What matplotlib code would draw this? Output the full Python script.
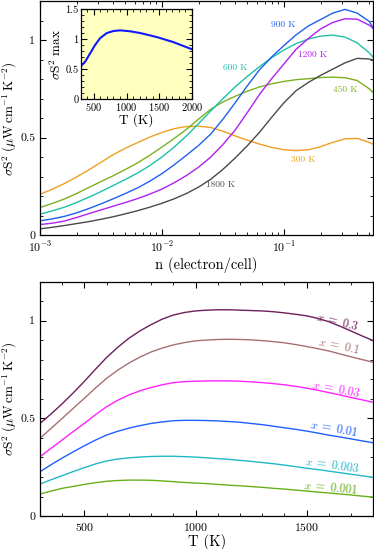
import numpy as np
import matplotlib
matplotlib.use('Agg')
import matplotlib.pyplot as plt
from matplotlib.ticker import MultipleLocator, FuncFormatter

plt.rcParams['font.family'] = 'serif'
plt.rcParams['font.serif'] = ['cmr10']
plt.rcParams['mathtext.fontset'] = 'cm'
plt.rcParams['axes.formatter.use_mathtext'] = True
plt.rcParams['axes.unicode_minus'] = False

# top panel: sigma S^2 vs carrier density (log10 n) at several temperatures
logn = [-3.0, -2.9, -2.8, -2.7, -2.6, -2.5, -2.4, -2.3, -2.2, -2.1, -2.0,
        -1.9, -1.8, -1.7, -1.6, -1.5, -1.4, -1.3, -1.2, -1.1, -1.0,
        -0.9, -0.8, -0.7, -0.6, -0.5, -0.4, -0.3, -0.268]
pf_300 = [0.210, 0.236, 0.265, 0.299, 0.335, 0.374, 0.413, 0.446, 0.475, 0.503, 0.527,
          0.546, 0.557, 0.559, 0.552, 0.533, 0.509, 0.487, 0.467, 0.450, 0.438,
          0.434, 0.438, 0.454, 0.476, 0.494, 0.496, 0.476, 0.466]
pf_450 = [0.142, 0.163, 0.186, 0.214, 0.245, 0.275, 0.305, 0.337, 0.371, 0.410, 0.452,
          0.496, 0.542, 0.595, 0.646, 0.683, 0.712, 0.738, 0.760, 0.776, 0.788,
          0.797, 0.802, 0.808, 0.810, 0.807, 0.793, 0.750, 0.730]
pf_600 = [0.108, 0.125, 0.144, 0.168, 0.195, 0.224, 0.255, 0.286, 0.319, 0.357, 0.401,
          0.452, 0.509, 0.572, 0.637, 0.700, 0.760, 0.814, 0.864, 0.910, 0.949,
          0.982, 1.005, 1.020, 1.025, 1.015, 0.986, 0.934, 0.911]
pf_900 = [0.074, 0.084, 0.097, 0.115, 0.137, 0.161, 0.187, 0.214, 0.243, 0.277, 0.316,
          0.361, 0.410, 0.460, 0.519, 0.595, 0.679, 0.766, 0.848, 0.914, 0.972,
          1.027, 1.072, 1.105, 1.138, 1.157, 1.138, 1.095, 1.060]
pf_1200 = [0.055, 0.062, 0.073, 0.091, 0.111, 0.130, 0.149, 0.168, 0.188, 0.211, 0.237,
           0.269, 0.306, 0.349, 0.401, 0.465, 0.539, 0.629, 0.722, 0.803, 0.878,
           0.953, 1.008, 1.057, 1.090, 1.109, 1.107, 1.076, 1.060]
pf_1800 = [0.033, 0.041, 0.050, 0.060, 0.070, 0.082, 0.095, 0.110, 0.126, 0.144, 0.164,
           0.187, 0.214, 0.247, 0.287, 0.338, 0.396, 0.459, 0.528, 0.605, 0.679,
           0.741, 0.783, 0.819, 0.851, 0.883, 0.906, 0.903, 0.897]

top_curves = [pf_300, pf_450, pf_600, pf_900, pf_1200, pf_1800]
top_colors = ['#f0a020', '#7cb01e', '#1ec0a6', '#1f5ff0', '#b020f0', '#4a4a4a']
top_labels = ['300 K', '450 K', '600 K', '900 K', '1200 K', '1800 K']
label_n = [0.143, 0.316, 0.040, 0.098, 0.170, 0.030]
label_y = [0.386, 0.744, 0.860, 1.077, 0.925, 0.258]

# inset: maximum sigma S^2 vs T
T_inset = [300, 366, 443, 520, 596, 698, 800, 902, 1056, 1209, 1464, 1719, 2000]
pf_max = [0.553, 0.626, 0.767, 0.908, 1.020, 1.105, 1.139, 1.150, 1.134, 1.105, 1.038, 0.953, 0.835]

# bottom panel: sigma S^2 vs T at several doping levels
T = [300, 350, 400, 450, 500, 550, 600, 650, 700, 750, 800, 850, 900, 950, 1000, 1050,
     1100, 1150, 1200, 1250, 1300, 1350, 1400, 1450, 1500, 1550, 1600, 1650, 1700, 1750, 1800]
pf_x03 = [0.474, 0.523, 0.575, 0.631, 0.690, 0.752, 0.812, 0.864, 0.910, 0.948, 0.980, 1.008,
          1.029, 1.042, 1.050, 1.054, 1.056, 1.056, 1.054, 1.052, 1.050, 1.046, 1.040, 1.033,
          1.025, 1.012, 0.995, 0.972, 0.947, 0.922, 0.898]
pf_x01 = [0.398, 0.449, 0.500, 0.552, 0.603, 0.656, 0.705, 0.747, 0.783, 0.814, 0.840, 0.860,
          0.876, 0.888, 0.897, 0.901, 0.904, 0.905, 0.904, 0.902, 0.898, 0.893, 0.887, 0.878,
          0.868, 0.857, 0.845, 0.830, 0.815, 0.801, 0.787]
pf_x003 = [0.304, 0.347, 0.390, 0.433, 0.475, 0.519, 0.560, 0.593, 0.620, 0.641, 0.658, 0.672,
           0.683, 0.688, 0.690, 0.692, 0.692, 0.692, 0.690, 0.687, 0.683, 0.678, 0.672, 0.664,
           0.655, 0.644, 0.632, 0.620, 0.607, 0.595, 0.582]
pf_x001 = [0.227, 0.263, 0.297, 0.329, 0.360, 0.389, 0.415, 0.434, 0.450, 0.463, 0.474, 0.482,
           0.488, 0.490, 0.490, 0.489, 0.487, 0.484, 0.480, 0.474, 0.468, 0.460, 0.452, 0.444,
           0.435, 0.425, 0.414, 0.405, 0.395, 0.385, 0.375]
pf_x0003 = [0.164, 0.186, 0.207, 0.228, 0.248, 0.267, 0.282, 0.292, 0.298, 0.302, 0.305, 0.306,
            0.306, 0.304, 0.302, 0.298, 0.294, 0.290, 0.285, 0.280, 0.274, 0.268, 0.261, 0.253,
            0.245, 0.238, 0.230, 0.222, 0.214, 0.206, 0.198]
pf_x0001 = [0.113, 0.128, 0.142, 0.152, 0.162, 0.171, 0.178, 0.182, 0.184, 0.184, 0.183, 0.180,
            0.176, 0.172, 0.169, 0.166, 0.162, 0.158, 0.155, 0.151, 0.147, 0.142, 0.138, 0.133,
            0.128, 0.123, 0.118, 0.113, 0.108, 0.102, 0.097]

bot_curves = [pf_x03, pf_x01, pf_x003, pf_x001, pf_x0003, pf_x0001]
bot_colors = ['#6e1e5a', '#a87070', '#ff22ff', '#1f5fff', '#20b8c8', '#66b01a']
bot_labels = ['0.3', '0.1', '0.03', '0.01', '0.003', '0.001']
blabel_T = [1638, 1647, 1634, 1625, 1616, 1611]
blabel_y = [0.992, 0.872, 0.650, 0.444, 0.260, 0.142]
blabel_rot = [-14, -12, -11, -10, -8, -5]

fmt = FuncFormatter(lambda v, p: '%g' % v)
ylab = r'$\sigma\mathrm{S}^2\ (\mu\mathrm{W\,cm^{-1}\,K^{-2}})$'


def style_ticks(ax, size=8.5):
    ax.tick_params(which='both', direction='in', top=True, right=True, labelsize=size)
    ax.tick_params(which='major', length=4.5, width=0.8)
    ax.tick_params(which='minor', length=2.5, width=0.6)
    for s in ax.spines.values():
        s.set_linewidth(0.9)


fig = plt.figure(figsize=(3.74, 5.49), dpi=100)

ax1 = fig.add_axes([0.107, 0.5714, 0.891, 0.4268])
for vals, c in zip(top_curves, top_colors):
    ax1.plot(10 ** np.array(logn), vals, color=c, lw=1.0)
for lab, xn, yv, c in zip(top_labels, label_n, label_y, top_colors):
    ax1.text(xn, yv, lab, color=c, fontsize=6.8, ha='center', va='center')
ax1.set_xscale('log')
ax1.set_xlim(1e-3, 10 ** -0.268)
ax1.set_ylim(0, 1.2)
ax1.yaxis.set_major_locator(MultipleLocator(0.5))
ax1.yaxis.set_minor_locator(MultipleLocator(0.1))
ax1.yaxis.set_major_formatter(fmt)
style_ticks(ax1)
ax1.set_xlabel('n (electron/cell)', fontsize=10.5, labelpad=1)
ax1.set_ylabel(ylab, fontsize=9.5)
ax1.yaxis.set_label_coords(-0.062, 0.5)

ax_in = fig.add_axes([0.216, 0.819, 0.297, 0.164])
ax_in.set_facecolor('#ffffbf')
ax_in.plot(T_inset, pf_max, color='#1018ff', lw=1.5)
ax_in.set_xlim(300, 2000)
ax_in.set_ylim(0, 1.5)
ax_in.xaxis.set_major_locator(MultipleLocator(500))
ax_in.xaxis.set_minor_locator(MultipleLocator(100))
ax_in.yaxis.set_major_locator(MultipleLocator(0.5))
ax_in.yaxis.set_minor_locator(MultipleLocator(0.1))
ax_in.yaxis.set_major_formatter(fmt)
style_ticks(ax_in, size=7.5)
ax_in.tick_params(which='both', pad=1.5)
ax_in.set_xlabel('T (K)', fontsize=9.5, labelpad=0)
ax_in.set_ylabel(r'$\sigma\mathrm{S}^2\ \mathrm{max}$', fontsize=9.5, labelpad=1)

ax2 = fig.add_axes([0.107, 0.060, 0.891, 0.427])
for vals, c in zip(bot_curves, bot_colors):
    ax2.plot(T, vals, color=c, lw=1.0)
for lab, tx, yv, r, c in zip(bot_labels, blabel_T, blabel_y, blabel_rot, bot_colors):
    ax2.text(tx, yv, r'$x\;=\;\mathit{' + lab + '}$', color=c, fontsize=8.7,
             ha='center', va='center', rotation=r)
ax2.set_xlim(300, 1800)
ax2.set_ylim(0, 1.2)
ax2.xaxis.set_major_locator(MultipleLocator(500))
ax2.xaxis.set_minor_locator(MultipleLocator(100))
ax2.yaxis.set_major_locator(MultipleLocator(0.5))
ax2.yaxis.set_minor_locator(MultipleLocator(0.1))
ax2.yaxis.set_major_formatter(fmt)
style_ticks(ax2)
ax2.set_xlabel('T (K)', fontsize=10.5, labelpad=1)
ax2.set_ylabel(ylab, fontsize=9.5)
ax2.yaxis.set_label_coords(-0.062, 0.5)

fig.savefig('out.png', dpi=100)
